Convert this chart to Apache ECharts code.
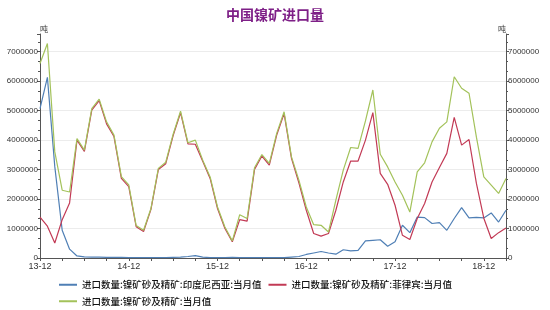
<!DOCTYPE html>
<html>
<head>
<meta charset="utf-8">
<script src="https://cdn.jsdelivr.net/npm/echarts@6/dist/echarts.min.js"></script>
<style>html,body{margin:0;padding:0;background:#fff}#c{width:550px;height:310px}</style>
</head>
<body>
<div id="c"></div>
<script>
// Month categories 2013-12 .. 2019-03
var categories = [
 "13-12",
 "14-01","14-02","14-03","14-04","14-05","14-06","14-07","14-08","14-09","14-10","14-11","14-12",
 "15-01","15-02","15-03","15-04","15-05","15-06","15-07","15-08","15-09","15-10","15-11","15-12",
 "16-01","16-02","16-03","16-04","16-05","16-06","16-07","16-08","16-09","16-10","16-11","16-12",
 "17-01","17-02","17-03","17-04","17-05","17-06","17-07","17-08","17-09","17-10","17-11","17-12",
 "18-01","18-02","18-03","18-04","18-05","18-06","18-07","18-08","18-09","18-10","18-11","18-12",
 "19-01","19-02","19-03"
];
// Indonesia (tons)
var indonesia = [
 5070000,
 6130000,3100000,940000,300000,70000,40000,30000,30000,20000,20000,20000,10000,
 10000,10000,10000,10000,10000,20000,30000,50000,80000,30000,10000,10000,
 10000,20000,10000,10000,10000,10000,10000,10000,10000,30000,50000,120000,
 170000,220000,170000,130000,280000,240000,260000,580000,600000,620000,400000,550000,
 1110000,860000,1390000,1370000,1170000,1200000,940000,1340000,1710000,1360000,1380000,1360000,
 1530000,1220000,1620000
];
// Philippines (tons)
var philippines = [
 1390000,
 1080000,510000,1300000,1870000,4000000,3620000,5020000,5340000,4550000,4120000,2700000,2420000,
 1060000,900000,1650000,3000000,3200000,4150000,4930000,3870000,3860000,3280000,2700000,1680000,
 1000000,550000,1300000,1250000,3000000,3460000,3150000,4170000,4900000,3380000,2550000,1620000,
 830000,740000,830000,1620000,2580000,3290000,3290000,4000000,4930000,2870000,2500000,1790000,
 770000,630000,1340000,1850000,2580000,3070000,3550000,4770000,3830000,4020000,2530000,1350000,
 660000,860000,1020000
];
// Total (tons)
var total = [
 6600000,
 7280000,3600000,2300000,2240000,4050000,3660000,5070000,5390000,4620000,4170000,2760000,2480000,
 1100000,940000,1680000,3040000,3250000,4200000,4980000,3910000,4000000,3320000,2750000,1730000,
 1050000,580000,1470000,1340000,3060000,3510000,3210000,4230000,4960000,3430000,2640000,1730000,
 1130000,1110000,880000,1960000,2980000,3750000,3720000,4650000,5700000,3520000,3090000,2580000,
 2130000,1560000,2920000,3230000,3940000,4400000,4620000,6150000,5760000,5590000,4100000,2750000,
 2470000,2190000,2700000
];
var seriesNames = [
 "进口数量:镍矿砂及精矿:印度尼西亚:当月值",
 "进口数量:镍矿砂及精矿:菲律宾:当月值",
 "进口数量:镍矿砂及精矿:当月值"
];
var titleText = "中国镍矿进口量";
var unitText = "吨";

var FONT = "'Noto Sans CJK SC', 'Noto Sans', sans-serif";
var axisColor = "#555";
function yAxis(pos) {
  return {
    type: 'value', position: pos, min: 0, max: 7600000, interval: 1000000,
    name: unitText, nameLocation: 'end', nameGap: 1,
    nameTextStyle: { fontSize: 8, color: '#333', fontFamily: FONT,
      align: pos === 'left' ? 'left' : 'right', verticalAlign: 'bottom' },
    axisLine: { show: true, lineStyle: { color: axisColor, width: 1 } },
    axisTick: { show: true, length: 3, lineStyle: { color: axisColor } },
    minorTick: { show: true, splitNumber: 3, length: 2, lineStyle: { color: axisColor } },
    axisLabel: { fontSize: 8, color: '#333', margin: 2, showMaxLabel: false,
      fontFamily: 'Liberation Sans, Arial, sans-serif',
      formatter: function (v) { return String(v); } },
    splitLine: { show: pos === 'left', showMaxLine: false, lineStyle: { color: '#ececec', width: 1 } }
  };
}
var colors = ['#4f7fb5', '#c23a55', '#a3c25a'];
var chart = echarts.init(document.getElementById('c'), null, { renderer: 'canvas' });
chart.setOption({
  animation: false,
  backgroundColor: '#fff',
  color: colors,
  title: {
    text: titleText, left: 'center', top: 3,
    textStyle: { fontSize: 14, fontWeight: 'bold', color: '#7e1f87', fontFamily: FONT }
  },
  grid: { left: 40, right: 44, top: 34, bottom: 52, containLabel: false },
  legend: {
    left: 57, top: 278, width: 420, padding: [2, 2, 2, 2],
    itemWidth: 18, itemHeight: 2, itemGap: 7,
    icon: 'rect',
    textStyle: { fontSize: 9.5, color: '#111', fontFamily: FONT, fontWeight: 500 },
    data: seriesNames
  },
  xAxis: {
    type: 'category', data: categories, boundaryGap: false,
    axisLine: { lineStyle: { color: axisColor } },
    axisTick: { interval: 2, length: 3, lineStyle: { color: axisColor } },
    axisLabel: { interval: 11, fontSize: 9, color: '#333', margin: 4, fontFamily: 'Liberation Sans, Arial, sans-serif' },
    splitLine: { show: false }
  },
  yAxis: [yAxis('left'), yAxis('right')],
  series: [
    { name: seriesNames[0], type: 'line', data: indonesia, showSymbol: false, symbol: 'none', lineStyle: { width: 1.2 } },
    { name: seriesNames[1], type: 'line', data: philippines, showSymbol: false, symbol: 'none', lineStyle: { width: 1.2 } },
    { name: seriesNames[2], type: 'line', data: total, showSymbol: false, symbol: 'none', lineStyle: { width: 1.2 } }
  ]
});
</script>
</body>
</html>
